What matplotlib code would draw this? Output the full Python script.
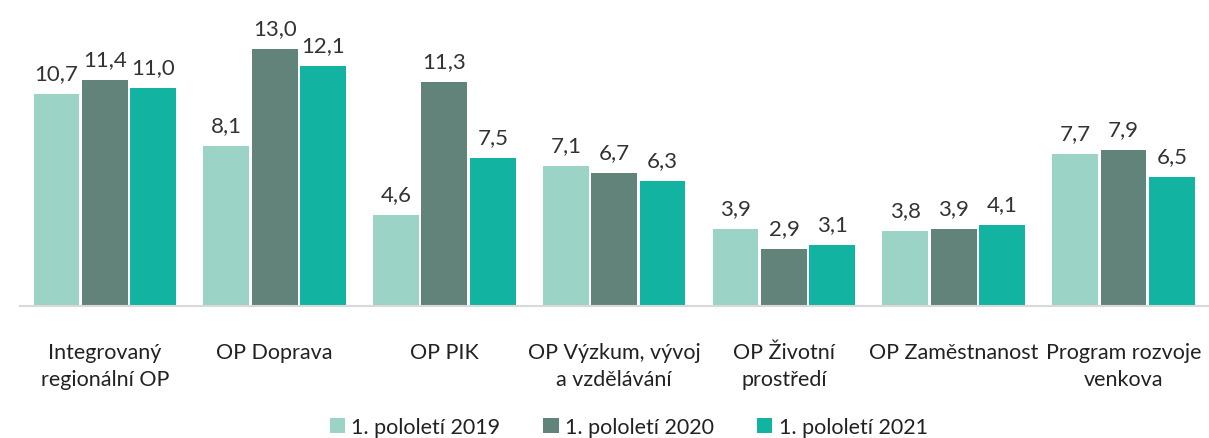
import numpy as np
import matplotlib.pyplot as plt

plt.rcParams['font.family'] = ['Lato', 'DejaVu Sans']

# data
categories = ['Integrovaný\nregionální OP', 'OP Doprava', 'OP PIK',
              'OP Výzkum, vývoj\na vzdělávání', 'OP Životní\nprostředí',
              'OP Zaměstnanost', 'Program rozvoje\nvenkova']
series_names = ['1. pololetí 2019', '1. pololetí 2020', '1. pololetí 2021']
v2019 = [10.7, 8.1, 4.6, 7.1, 3.9, 3.8, 7.7]
v2020 = [11.4, 13.0, 11.3, 6.7, 2.9, 3.9, 7.9]
v2021 = [11.0, 12.1, 7.5, 6.3, 3.1, 4.1, 6.5]
colors = ['#9BD3C6', '#62837A', '#12B3A0']

fig = plt.figure(figsize=(12.09, 4.39), dpi=100)
ax = fig.add_axes([0.0165, 0.30, 0.983, 0.70])

x = np.arange(len(categories))
width = 0.27
offset = 0.285
for i, (vals, name) in enumerate(zip([v2019, v2020, v2021], series_names)):
    bars = ax.bar(x + (i - 1) * offset, vals, width, color=colors[i], label=name)
    for b, v in zip(bars, vals):
        ax.text(b.get_x() + b.get_width() / 2, v + 0.55, f'{v:.1f}'.replace('.', ','),
                ha='center', va='bottom', fontsize=16, color='#333333')

ax.set_xlim(-0.5, len(categories) - 0.5)
ax.set_ylim(0, 15.5)
ax.set_yticks([])
ax.set_xticks(x)
ax.set_xticklabels(categories, fontsize=15.5, color='#222222', linespacing=1.42)
ax.tick_params(axis='x', length=0, pad=26)
for s in ['top', 'right', 'left']:
    ax.spines[s].set_visible(False)
ax.spines['bottom'].set_color('#d9d9d9')
ax.spines['bottom'].set_linewidth(1.5)

fig.legend(loc='lower center', bbox_to_anchor=(0.52, -0.042), ncol=3, frameon=False,
           fontsize=15.5, handlelength=0.7, handleheight=0.7, handletextpad=0.3,
           columnspacing=2.0, labelcolor='#222222')

fig.savefig('out.png', dpi=100)
